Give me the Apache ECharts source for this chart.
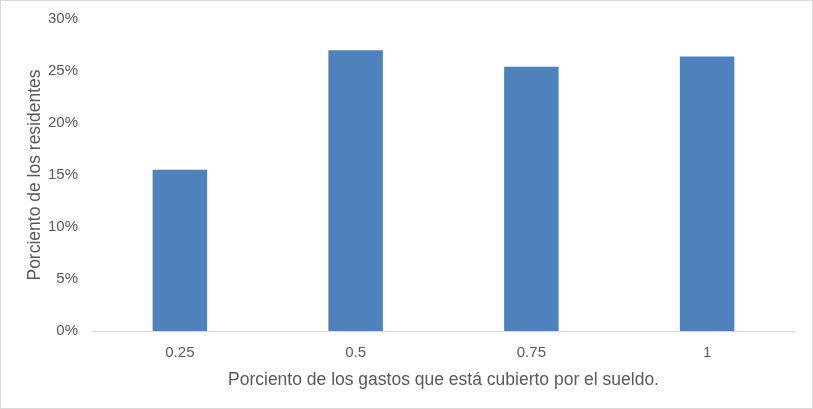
<!DOCTYPE html>
<html>
<head>
<meta charset="utf-8">
<script src="https://cdn.jsdelivr.net/npm/echarts@6/dist/echarts.min.js"></script>
<style>
html,body{margin:0;padding:0;background:#fff;}
#frame{position:absolute;left:0;top:0;width:811px;height:407px;border:1px solid #d9d9d9;}
#chart{width:813px;height:409px;position:absolute;left:0;top:0;}
</style>
</head>
<body>
<div id="frame"></div>
<div id="chart"></div>
<script>
const categories = ['0.25', '0.5', '0.75', '1'];
const values = [15.5, 27.0, 25.4, 26.4];
const yTicks = [0, 5, 10, 15, 20, 25, 30];
const xTitle = 'Porciento de los gastos que está cubierto por el sueldo.';
const yTitle = 'Porciento de los residentes';

const chart = echarts.init(document.getElementById('chart'), null, {renderer: 'canvas'});
chart.setOption({
  animation: false,
  textStyle: {fontFamily: 'Liberation Sans, Arial, sans-serif'},
  grid: {left: 92, right: 18, top: 19, bottom: 78},
  xAxis: {
    type: 'category',
    data: categories,
    axisLine: {lineStyle: {color: '#d9d9d9', width: 1}},
    axisTick: {show: false},
    axisLabel: {color: '#595959', fontSize: 15, margin: 14},
    name: xTitle,
    nameLocation: 'middle',
    nameGap: 40,
    nameTextStyle: {color: '#595959', fontSize: 17.5},
    nameMoveOverlap: false
  },
  yAxis: {
    type: 'value',
    min: yTicks[0],
    max: yTicks[yTicks.length - 1],
    interval: 5,
    axisLine: {show: false},
    axisTick: {show: false},
    splitLine: {show: false},
    axisLabel: {color: '#595959', fontSize: 15, margin: 14, formatter: v => v + '%'},
    name: yTitle,
    nameLocation: 'middle',
    nameGap: 48,
    nameTextStyle: {color: '#595959', fontSize: 17.5},
    nameMoveOverlap: false
  },
  series: [{
    type: 'bar',
    data: values,
    barWidth: '31%',
    itemStyle: {color: '#4f81bd'}
  }]
});
</script>
</body>
</html>
